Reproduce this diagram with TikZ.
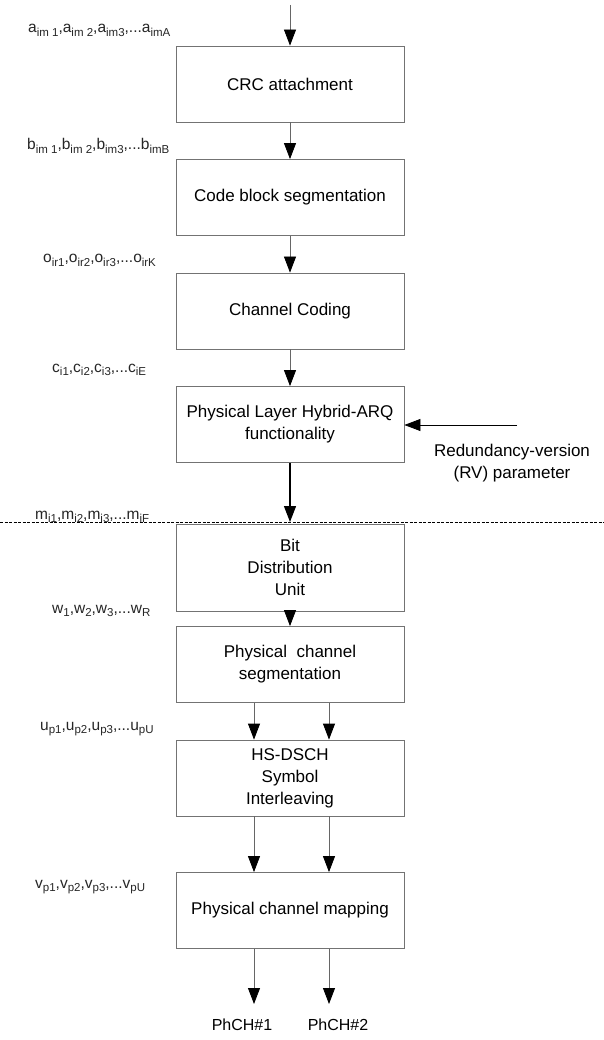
\documentclass[tikz,border=0pt]{standalone}
\usepackage{fontspec}
\setmainfont{Liberation Sans}
\usetikzlibrary{arrows.meta}
\newcommand\lsub[1]{\raisebox{-0.45ex}{\fontsize{11.5}{11.5}\selectfont #1}}
\newcommand\seq[5]{#1\lsub{#2},#1\lsub{#3},#1\lsub{#4},...#1\lsub{#5}}
\begin{document}
\begin{tikzpicture}[x=1pt,y=-1pt,
  box/.style={draw=black!55, line width=0.8pt, minimum width=228pt, minimum height=76pt,
    align=center, font=\fontsize{17}{22}\selectfont, inner sep=0pt},
  arr/.style={draw=black!60, line width=0.8pt, -{Triangle[width=12pt,length=16pt,color=black]}},
  arrk/.style={draw=black, line width=1.3pt, -{Triangle[width=12pt,length=16pt,color=black]}},
  lab/.style={anchor=base west, font=\fontsize{15.5}{18}\selectfont, inner sep=0pt, text=black!85},
  txt/.style={font=\fontsize{17}{22}\selectfont, align=center}]
\path[use as bounding box, fill=white] (0,0) rectangle (604,1040);

% boxes
\node[box] (crc) at (290,84) {CRC attachment};
\node[box] (cbs) at (290,197.5) {Code block segmentation};
\node[box] (cc) at (290,311) {Channel Coding};
\node[box] (harq) at (290,424.5) {Physical Layer Hybrid-ARQ\\functionality};
\node[box, minimum height=87pt] (bdu) at (290,567.5) {Bit\\Distribution\\Unit};
\node[box] (pcs) at (290,664.5) {Physical\ \ channel\\segmentation};
\node[box] (hs) at (290,778) {HS-DSCH\\Symbol\\Interleaving};
\node[box] (pcm) at (290,910.5) {Physical channel mapping};

% dashed separator
\coordinate (dl) at (0,522);
\coordinate (dr) at (604,522);
\draw[black, line width=0.7pt, dash pattern=on 3pt off 1.5pt] (dl) -- (dr);

% labels
\node[lab] (la) at (28,33) {\seq{a}{im 1}{im 2}{im3}{imA}};
\node[lab] (lb) at (27,150) {\seq{b}{im 1}{im 2}{im3}{imB}};
\node[lab] (lo) at (43,263) {\seq{o}{ir1}{ir2}{ir3}{irK}};
\node[lab] (lc) at (52,372) {\seq{c}{i1}{i2}{i3}{iE}};
\node[lab] (lm) at (35,519) {\seq{m}{i1}{i2}{i3}{iF}};
\node[lab] (lw) at (52,613) {\seq{w}{1}{2}{3}{R}};
\node[lab] (lu) at (40,730) {\seq{u}{p1}{p2}{p3}{pU}};
\node[lab] (lv) at (35,888) {\seq{v}{p1}{p2}{p3}{pU}};

% RV input
\coordinate (rv) at (517,425);
\node[txt] (rvt) at (512,463) {Redundancy-version\\(RV) parameter};
\draw[arr, draw=black] (rv) -- (harq.east |- rv);

% outputs
\coordinate (c1) at (254,0);
\coordinate (c2) at (329,0);
\node[txt, font=\fontsize{16}{20}\selectfont, anchor=north, inner ysep=15pt] (ph1) at (242,1004) {PhCH\#1};
\node[txt, font=\fontsize{16}{20}\selectfont, anchor=north, inner ysep=15pt] (ph2) at (338,1004) {PhCH\#2};

% connectors
\coordinate (in) at (290,5);
\draw[arr] (in) -- (crc);
\draw[arr] (crc) -- (cbs);
\draw[arr] (cbs) -- (cc);
\draw[arr] (cc) -- (harq);
\draw[arrk] (harq.south) -- (dl -| harq.south);
\draw[arr] (bdu) -- (pcs);
\draw[arr] (pcs.south -| c1) -- (hs.north -| c1);
\draw[arr] (pcs.south -| c2) -- (hs.north -| c2);
\draw[arr] (hs.south -| c1) -- (pcm.north -| c1);
\draw[arr] (hs.south -| c2) -- (pcm.north -| c2);
\draw[arr] (pcm.south -| c1) -- (ph1.north -| c1);
\draw[arr] (pcm.south -| c2) -- (ph2.north -| c2);
\end{tikzpicture}
\end{document}
